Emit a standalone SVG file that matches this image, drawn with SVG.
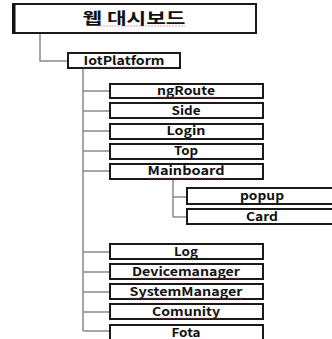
<svg xmlns="http://www.w3.org/2000/svg" width="332" height="339" viewBox="0 0 332 339">
<style>
.b{fill:#fff;stroke:#1a1a1a;stroke-width:2}
.t{font-family:"Noto Sans CJK KR","Liberation Sans",sans-serif;font-weight:bold;font-size:12px;fill:#111;text-anchor:middle}
.c{fill:none;stroke:#8a8a8a;stroke-width:1.5}
.u{fill:none;stroke:#e05050;stroke-width:1;opacity:.55;stroke-dasharray:2 1}
</style>
<rect width="332" height="339" fill="#fff"/>
<g id="connectors">
<path class="c" d="M40 33V61H68"/>
<path class="c" d="M83 68V331M83 91H110M83 111H110M83 131H110M83 151H110M83 171H110M83 252H110M83 272H110M83 292H110M83 312H110M83 331H110"/>
<path class="c" d="M173 179V217M173 197H187M173 217H187"/>
</g>
<g id="root"><rect class="b" x="13" y="4" width="243" height="29"/><path d="M14 4V33" stroke="#111" stroke-width="3"/><text class="t" x="134" y="24" style="font-size:16px" textLength="103" lengthAdjust="spacingAndGlyphs">웹 대시보드</text><path class="u" d="M97 26H185"/></g>
<g id="iotplatform"><rect class="b" x="68" y="53" width="112" height="15"/><text class="t" x="124" y="65" textLength="81" lengthAdjust="spacingAndGlyphs">IotPlatform</text><path class="u" d="M83 67H164"/></g>
<g id="ngroute"><rect class="b" x="110" y="84" width="153" height="14"/><text class="t" x="186" y="95" textLength="58" lengthAdjust="spacingAndGlyphs">ngRoute</text><path class="u" d="M157 97H215"/></g>
<g id="side"><rect class="b" x="110" y="103" width="153" height="15"/><text class="t" x="186" y="115" textLength="29" lengthAdjust="spacingAndGlyphs">Side</text></g>
<g id="login"><rect class="b" x="110" y="124" width="153" height="15"/><text class="t" x="186" y="135" textLength="39" lengthAdjust="spacingAndGlyphs">Login</text></g>
<g id="top"><rect class="b" x="110" y="144" width="153" height="15"/><text class="t" x="186" y="155" textLength="24" lengthAdjust="spacingAndGlyphs">Top</text></g>
<g id="mainboard"><rect class="b" x="110" y="164" width="153" height="15"/><text class="t" x="186" y="175" textLength="77" lengthAdjust="spacingAndGlyphs">Mainboard</text><path class="u" d="M148 178H224"/></g>
<g id="popup"><rect class="b" x="187" y="188" width="150" height="16"/><text class="t" x="262" y="200" textLength="44" lengthAdjust="spacingAndGlyphs">popup</text></g>
<g id="card"><rect class="b" x="187" y="209" width="150" height="15"/><text class="t" x="262" y="221" textLength="32" lengthAdjust="spacingAndGlyphs">Card</text></g>
<g id="log"><rect class="b" x="110" y="244" width="153" height="15"/><text class="t" x="186" y="256" textLength="24" lengthAdjust="spacingAndGlyphs">Log</text></g>
<g id="devicemanager"><rect class="b" x="110" y="264" width="153" height="15"/><text class="t" x="186" y="276" textLength="108" lengthAdjust="spacingAndGlyphs">Devicemanager</text><path class="u" d="M132 278H240"/></g>
<g id="systemmanager"><rect class="b" x="110" y="284" width="153" height="15"/><text class="t" x="186" y="296" textLength="113" lengthAdjust="spacingAndGlyphs">SystemManager</text><path class="u" d="M129 298H243"/></g>
<g id="comunity"><rect class="b" x="110" y="304" width="153" height="15"/><text class="t" x="186" y="316" textLength="68" lengthAdjust="spacingAndGlyphs">Comunity</text><path class="u" d="M152 318H220"/></g>
<g id="fota"><rect class="b" x="110" y="325" width="153" height="20"/><text class="t" x="186" y="337" textLength="29" lengthAdjust="spacingAndGlyphs">Fota</text></g>
</svg>
